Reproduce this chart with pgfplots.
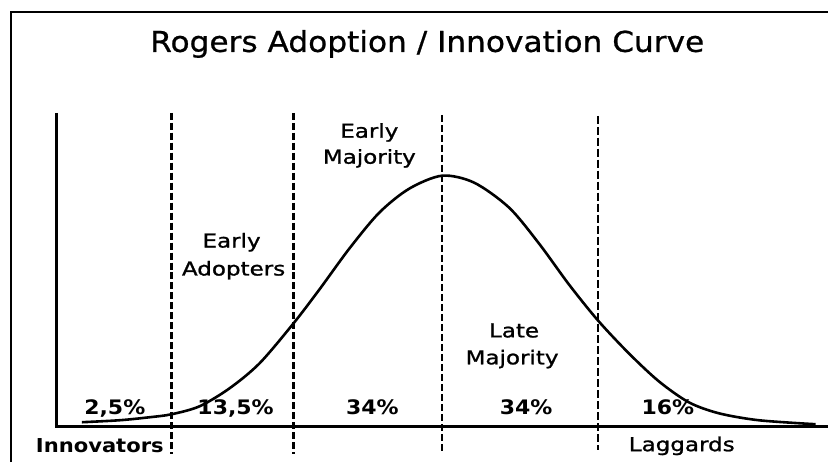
\documentclass[border=0pt]{standalone}
\usepackage{pgfplots}
\pgfplotsset{compat=1.18}
\usepackage{fontspec}
\setmainfont{DejaVu Sans}
\newfontfamily\titlefont[FakeStretch=1.085,FakeBold=0.8]{DejaVu Sans}
\newfontfamily\lblfont[FakeStretch=1.2,FakeBold=1.2]{DejaVu Sans}
\newfontfamily\pctfont[FakeStretch=1.1]{DejaVu Sans}
\tikzset{
  lbl/.style={anchor=base, font={\lblfont\fontsize{9.6}{12}\selectfont}},
  pct/.style={anchor=base, font={\pctfont\bfseries\fontsize{10}{12}\selectfont}},
}

\begin{document}
\begin{tikzpicture}
\begin{axis}[
  width=414.5pt, height=231.5pt, scale only axis,
  xmin=0, xmax=829, ymin=-36, ymax=427,
  axis lines=none, ticks=none, clip=false,
]
\path (axis cs:0,-36) rectangle (axis cs:829,427);

% frame (left and top only)
\addplot[line width=1.2pt] coordinates {(11,-36) (11,415) (829,415)};

% axes
\addplot[line width=1.5pt] coordinates {(57,314) (57,0) (829,0)};

% segment boundaries
\addplot[line width=1.2pt, dash pattern=on 3.5pt off 1.5pt] coordinates {(172,314) (172,-28)};
\addplot[line width=1.2pt, dash pattern=on 3.5pt off 1.5pt] coordinates {(294,314) (294,-28)};
\addplot[line width=1.2pt, dash pattern=on 3.5pt off 1.5pt] coordinates {(443,312) (443,-28)};
\addplot[line width=0.7pt, dash pattern=on 4pt off 1.5pt] coordinates {(599,311) (599,-24)};

% adoption curve
\addplot[line width=1.3pt, smooth, tension=0.5] coordinates {
 (82,4) (120,6) (150,9) (172,12) (200,20) (230,38) (260,63) (294,103)
 (320,137) (350,178) (380,214) (410,238) (443,251) (475,244) (510,219)
 (540,183) (570,142) (599,106) (630,73) (660,45) (690,24) (720,13)
 (760,6) (817,2)};

\node[anchor=base, font={\titlefont\fontsize{14.4}{16}\selectfont}] at (axis cs:428,375) {Rogers Adoption / Innovation Curve};

\node[lbl] at (axis cs:370,289) {Early};
\node[lbl] at (axis cs:370,263) {Majority};
\node[lbl] at (axis cs:232,179) {Early};
\node[lbl] at (axis cs:234,151) {Adopters};
\node[lbl] at (axis cs:515,89) {Late};
\node[lbl] at (axis cs:513,62) {Majority};

\node[pct] at (axis cs:115,12) {2,5\%};
\node[pct] at (axis cs:236,12) {13,5\%};
\node[pct] at (axis cs:373,12) {34\%};
\node[pct] at (axis cs:527,12) {34\%};
\node[pct] at (axis cs:669,12) {16\%};

\node[anchor=base, font={\pctfont\bfseries\fontsize{9.6}{12}\selectfont}] at (axis cs:100,-26) {Innovators};
\node[lbl] at (axis cs:683,-25) {Laggards};
\end{axis}
\end{tikzpicture}
\end{document}
